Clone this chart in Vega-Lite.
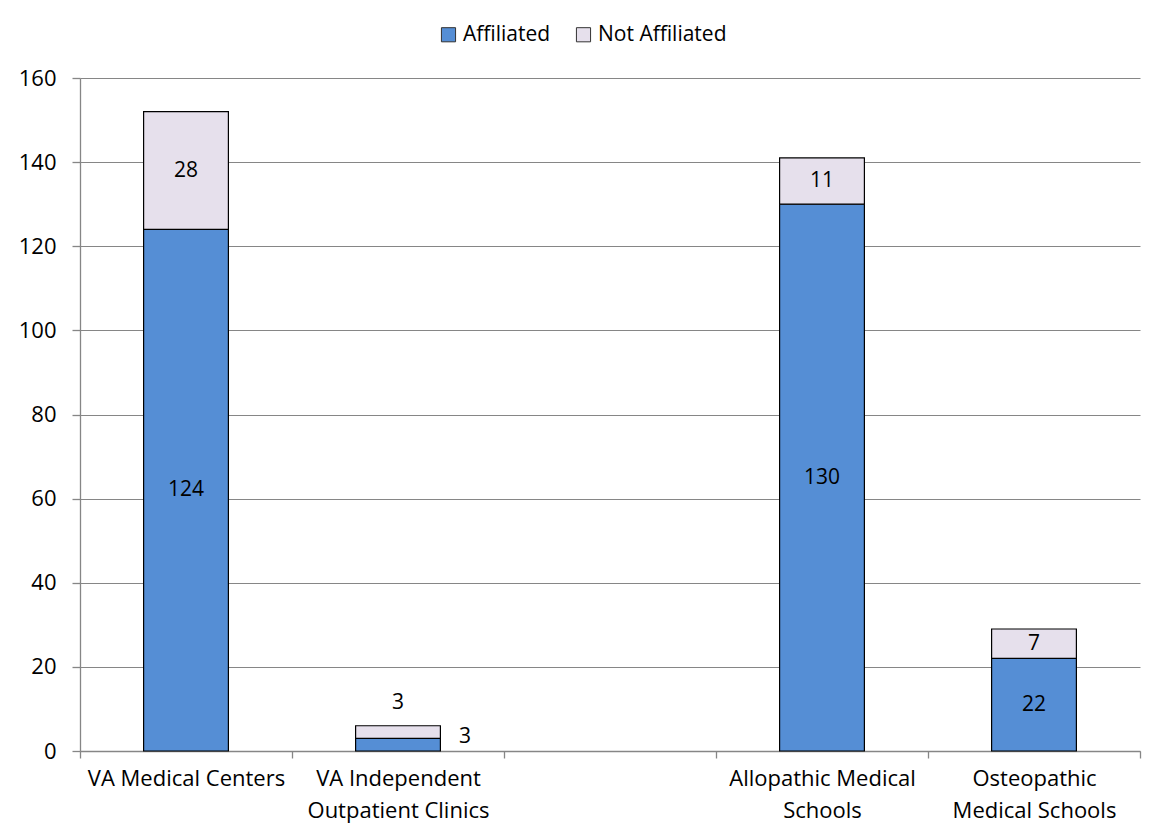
{
  "$schema": "https://vega.github.io/schema/vega-lite/v6.json",
  "autosize": "none",
  "width": 1060,
  "height": 673,
  "padding": {"left": 80, "top": 78, "right": 11, "bottom": 84},
  "background": "white",
  "config": {
    "font": "Open Sans",
    "view": {"stroke": null},
    "axis": {"labelFont": "Open Sans", "labelFontSize": 22, "labelColor": "black", "labelLimit": 400, "domain": true, "domainColor": "#868686", "domainWidth": 1.3, "ticks": true, "tickColor": "#868686", "tickWidth": 1.3, "gridColor": "#868686", "gridWidth": 1, "title": null},
    "axisY": {"tickSize": 8, "labelPadding": 16, "grid": true, "domain": true},
    "axisX": {"grid": false, "domain": true, "ticks": true, "tickSize": 7, "tickBand": "extent", "labelAngle": 0, "labelPadding": 10, "labelLineHeight": 32, "labelBaseline": "top"}
  },
  "data": {
    "values": [
      {"category": "VA Medical Centers", "series": "Affiliated", "value": 124},
      {"category": "VA Medical Centers", "series": "Not Affiliated", "value": 28},
      {"category": "VA Independent Outpatient Clinics", "series": "Affiliated", "value": 3},
      {"category": "VA Independent Outpatient Clinics", "series": "Not Affiliated", "value": 3},
      {"category": "Allopathic Medical Schools", "series": "Affiliated", "value": 130},
      {"category": "Allopathic Medical Schools", "series": "Not Affiliated", "value": 11},
      {"category": "Osteopathic Medical Schools", "series": "Affiliated", "value": 22},
      {"category": "Osteopathic Medical Schools", "series": "Not Affiliated", "value": 7}
    ]
  },
  "encoding": {
    "x": {
      "field": "category",
      "type": "nominal",
      "scale": {
        "domain": ["VA Medical Centers", "VA Independent Outpatient Clinics", "blank", "Allopathic Medical Schools", "Osteopathic Medical Schools"],
        "paddingInner": 0,
        "paddingOuter": 0
      },
      "axis": {
        "labelExpr": "datum.value == 'blank' ? '' : datum.value == 'VA Independent Outpatient Clinics' ? ['VA Independent', 'Outpatient Clinics'] : datum.value == 'Allopathic Medical Schools' ? ['Allopathic Medical', 'Schools'] : datum.value == 'Osteopathic Medical Schools' ? ['Osteopathic', 'Medical Schools'] : datum.value"
      }
    }
  },
  "layer": [
    {
      "mark": {"type": "bar", "stroke": "black", "strokeWidth": 1.2, "width": {"band": 0.4}},
      "encoding": {
        "y": {
          "field": "value",
          "type": "quantitative",
          "stack": "zero",
          "scale": {"domain": [0, 160], "nice": false},
          "axis": {"values": [0, 20, 40, 60, 80, 100, 120, 140, 160]}
        },
        "color": {
          "field": "series",
          "type": "nominal",
          "scale": {"domain": ["Affiliated", "Not Affiliated"], "range": ["#558ED5", "#E6E0EC"]},
          "legend": {
            "title": null,
            "orient": "none",
            "direction": "horizontal",
            "legendX": 358,
            "legendY": -54,
            "symbolType": "square",
            "symbolSize": 200,
            "symbolStrokeColor": "#333333",
            "symbolStrokeWidth": 1,
            "symbolOpacity": 1,
            "labelFontSize": 21,
            "labelFont": "Open Sans",
            "labelColor": "black",
            "labelOffset": 4,
            "columnPadding": 22
          }
        },
        "order": {"field": "series", "sort": "ascending"}
      }
    },
    {
      "transform": [
        {"stack": "value", "groupby": ["category"], "sort": [{"field": "series", "order": "ascending"}], "as": ["v0", "v1"]},
        {"calculate": "(datum.v0 + datum.v1) / 2", "as": "mid"},
        {"filter": "datum.value >= 5"}
      ],
      "mark": {"type": "text", "fontSize": 21, "font": "Open Sans", "color": "black"},
      "encoding": {
        "y": {"field": "mid", "type": "quantitative", "axis": {"values": [0, 20, 40, 60, 80, 100, 120, 140, 160]}},
        "text": {"field": "value", "type": "quantitative"}
      }
    },
    {
      "transform": [
        {"stack": "value", "groupby": ["category"], "sort": [{"field": "series", "order": "ascending"}], "as": ["v0", "v1"]},
        {"calculate": "(datum.v0 + datum.v1) / 2", "as": "mid"},
        {"filter": "datum.value < 5 && datum.series == 'Affiliated'"}
      ],
      "mark": {"type": "text", "fontSize": 21, "font": "Open Sans", "color": "black", "dx": 67, "dy": -8},
      "encoding": {
        "y": {"field": "mid", "type": "quantitative", "axis": {"values": [0, 20, 40, 60, 80, 100, 120, 140, 160]}},
        "text": {"field": "value", "type": "quantitative"}
      }
    },
    {
      "transform": [
        {"stack": "value", "groupby": ["category"], "sort": [{"field": "series", "order": "ascending"}], "as": ["v0", "v1"]},
        {"filter": "datum.value < 5 && datum.series == 'Not Affiliated'"}
      ],
      "mark": {"type": "text", "fontSize": 21, "font": "Open Sans", "color": "black", "dy": -23},
      "encoding": {
        "y": {"field": "v1", "type": "quantitative", "axis": {"values": [0, 20, 40, 60, 80, 100, 120, 140, 160]}},
        "text": {"field": "value", "type": "quantitative"}
      }
    }
  ]
}
